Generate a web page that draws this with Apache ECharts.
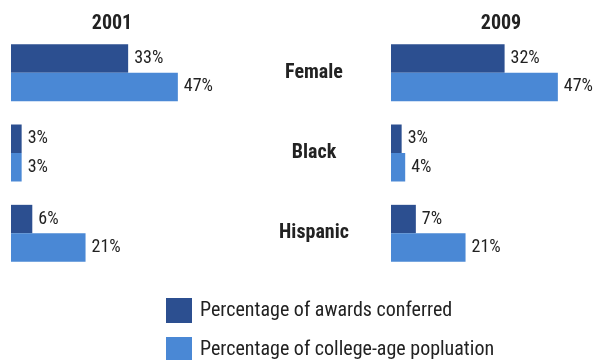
<!DOCTYPE html>
<html>
<head>
<meta charset="utf-8">
<title>Awards conferred vs college-age population</title>
<script src="https://cdn.jsdelivr.net/npm/echarts@6/dist/echarts.min.js"></script>
<style>
  html, body { margin: 0; padding: 0; background: #ffffff; }
  #chart { width: 594px; height: 360px; }
</style>
</head>
<body>
<div id="chart"></div>
<script>
// Groups shown as rows, top to bottom
const categories = ['Female', 'Black', 'Hispanic'];
const years = ['2001', '2009'];
const seriesNames = ['Percentage of awards conferred', 'Percentage of college-age popluation'];

// Shares in percent
const awards2001 = [33, 3, 6];
const population2001 = [47, 3, 21];
const awards2009 = [32, 3, 7];
const population2009 = [47, 4, 21];

const DARK = '#2c4f90';
const LIGHT = '#4a88d5';
const TEXT = '#222222';
const NARROW = "'Liberation Sans Narrow', 'Arial Narrow', 'Roboto Condensed', sans-serif";

const chart = echarts.init(document.getElementById('chart'), null, { renderer: 'canvas' });

function valueLabel() {
  return {
    show: true,
    position: 'right',
    distance: 6,
    formatter: p => p.value + '%',
    color: TEXT,
    fontFamily: NARROW,
    fontSize: 18
  };
}

function barSeries(name, data, idx, color) {
  return {
    name: name,
    type: 'bar',
    xAxisIndex: idx,
    yAxisIndex: idx,
    data: data,
    barWidth: 28.5,
    barGap: '0%',
    itemStyle: { color: color },
    label: valueLabel(),
    silent: true,
    animation: false
  };
}

function legendRow(name, top) {
  return {
    left: 166,
    top: top,
    padding: 0,
    itemWidth: 26,
    itemHeight: 25,
    icon: 'rect',
    selectedMode: false,
    data: [name],
    textStyle: { fontFamily: NARROW, fontSize: 20, color: TEXT, padding: [0, 0, 0, 3] }
  };
}

const grids = [
  { left: 11, top: 32.5, width: 177.5, height: 241 },
  { left: 391, top: 32.5, width: 177.5, height: 241 }
];

const option = {
  backgroundColor: '#ffffff',
  animation: false,
  title: [
    { text: years[0], left: 107, top: 9, textAlign: 'center',
      textStyle: { fontFamily: NARROW, fontSize: 20, fontWeight: 'bold', color: TEXT } },
    { text: years[1], left: 496, top: 9, textAlign: 'center',
      textStyle: { fontFamily: NARROW, fontSize: 20, fontWeight: 'bold', color: TEXT } }
  ],
  legend: [
    legendRow(seriesNames[0], 298),
    legendRow(seriesNames[1], 337)
  ],
  grid: grids,
  xAxis: grids.map((g, i) => ({
    type: 'value',
    gridIndex: i,
    min: 0,
    max: 50,
    show: false
  })),
  yAxis: [
    {
      type: 'category',
      gridIndex: 0,
      data: categories,
      inverse: true,
      show: false
    },
    {
      type: 'category',
      gridIndex: 1,
      data: categories,
      inverse: true,
      position: 'left',
      axisLine: { show: false },
      axisTick: { show: false },
      splitLine: { show: false },
      axisLabel: {
        show: true,
        margin: 77,
        align: 'center',
        color: TEXT,
        fontFamily: NARROW,
        fontSize: 20,
        fontWeight: 'bold'
      }
    }
  ],
  series: [
    barSeries(seriesNames[0], awards2001, 0, DARK),
    barSeries(seriesNames[1], population2001, 0, LIGHT),
    barSeries(seriesNames[0], awards2009, 1, DARK),
    barSeries(seriesNames[1], population2009, 1, LIGHT)
  ]
};

chart.setOption(option);
</script>
</body>
</html>
